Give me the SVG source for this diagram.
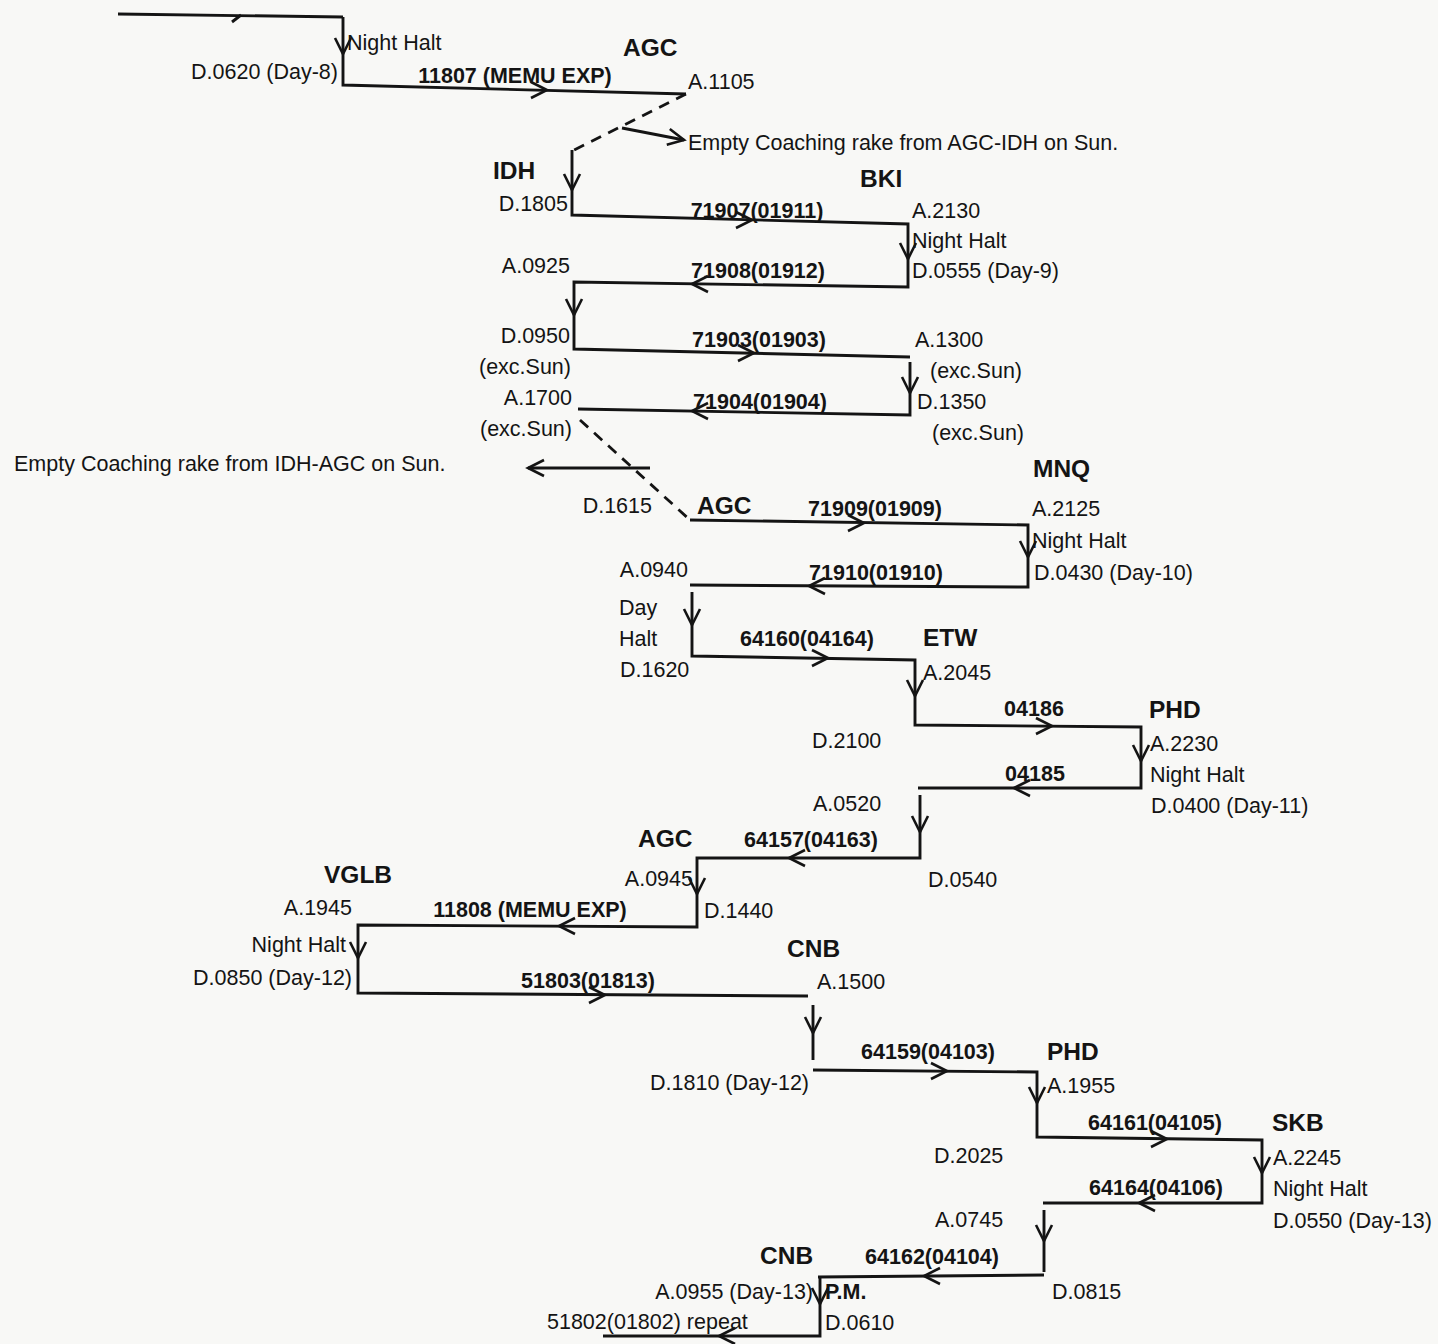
<svg xmlns="http://www.w3.org/2000/svg" width="1438" height="1344" viewBox="0 0 1438 1344">
<style>
text{font-family:"Liberation Sans",Arial,sans-serif;fill:#141414}
.t{font-size:21.5px}
.b{font-size:21.5px;font-weight:bold;text-anchor:middle}
.s{font-size:24.5px;font-weight:bold}
.e{text-anchor:end}
.ln{fill:none;stroke:#141414;stroke-width:2.9;stroke-linejoin:miter}
.d{fill:none;stroke:#141414;stroke-width:2.8;stroke-dasharray:11,8}
</style>
<defs>
<path id="ah" d="M-16,-8 L0,0 L-16,8" fill="none" stroke="#141414" stroke-width="2.6"/>
</defs>
<rect width="1438" height="1344" fill="#f8f8f6"/>
<g id="connectors">
<path class="ln" d="M118,14 L343,17"/>
<path class="ln" d="M232,22 L241,15"/>
<path class="ln" d="M343,17 L343,85 L686,94"/>
<path class="d" d="M686,94 L570,152"/>
<path class="ln" d="M622,128 L684,140"/>
<path class="ln" d="M572,150 L572,215 L908,224 L908,287 L574,282 L574,349 L910,357"/>
<path class="ln" d="M910,362 L910,415 L578,409"/>
<path class="d" d="M580,420 L690,520"/>
<path class="ln" d="M650,468 L528,468"/>
<path class="ln" d="M690,520 L1028,525 L1028,587 L690,585"/>
<path class="ln" d="M692,592 L692,656 L915,660 L915,725 L1141,727 L1141,788 L918,788"/>
<path class="ln" d="M920,795 L920,858 L697,858 L697,927 L358,925 L358,993 L808,996"/>
<path class="ln" d="M813,1005 L813,1060"/>
<path class="ln" d="M813,1070 L1037,1072 L1037,1137 L1262,1140 L1262,1203 L1043,1203"/>
<path class="ln" d="M1044,1210 L1044,1272"/>
<path class="ln" d="M1044,1275 L818,1277"/>
<path class="ln" d="M820,1277 L820,1336 L603,1336"/>
<use href="#ah" transform="translate(343,54) rotate(90)"/>
<use href="#ah" transform="translate(547,90)"/>
<use href="#ah" transform="translate(684,140) rotate(11)"/>
<use href="#ah" transform="translate(572,190) rotate(90)"/>
<use href="#ah" transform="translate(752,220)"/>
<use href="#ah" transform="translate(908,259) rotate(90)"/>
<use href="#ah" transform="translate(692,284) rotate(180)"/>
<use href="#ah" transform="translate(574,315) rotate(90)"/>
<use href="#ah" transform="translate(754,353)"/>
<use href="#ah" transform="translate(910,393) rotate(90)"/>
<use href="#ah" transform="translate(692,411) rotate(180)"/>
<use href="#ah" transform="translate(528,468) rotate(180)"/>
<use href="#ah" transform="translate(864,523)"/>
<use href="#ah" transform="translate(1028,557) rotate(90)"/>
<use href="#ah" transform="translate(809,586) rotate(180)"/>
<use href="#ah" transform="translate(692,625) rotate(90)"/>
<use href="#ah" transform="translate(828,658)"/>
<use href="#ah" transform="translate(915,696) rotate(90)"/>
<use href="#ah" transform="translate(1052,726)"/>
<use href="#ah" transform="translate(1141,761) rotate(90)"/>
<use href="#ah" transform="translate(1014,788) rotate(180)"/>
<use href="#ah" transform="translate(920,832) rotate(90)"/>
<use href="#ah" transform="translate(789,858) rotate(180)"/>
<use href="#ah" transform="translate(697,894) rotate(90)"/>
<use href="#ah" transform="translate(559,926) rotate(180)"/>
<use href="#ah" transform="translate(358,958) rotate(90)"/>
<use href="#ah" transform="translate(605,995)"/>
<use href="#ah" transform="translate(813,1033) rotate(90)"/>
<use href="#ah" transform="translate(947,1071)"/>
<use href="#ah" transform="translate(1037,1103) rotate(90)"/>
<use href="#ah" transform="translate(1167,1139)"/>
<use href="#ah" transform="translate(1262,1173) rotate(90)"/>
<use href="#ah" transform="translate(1139,1203) rotate(180)"/>
<use href="#ah" transform="translate(1044,1241) rotate(90)"/>
<use href="#ah" transform="translate(924,1276) rotate(180)"/>
<use href="#ah" transform="translate(820,1304) rotate(90)"/>
<use href="#ah" transform="translate(719,1336) rotate(180)"/>
</g>
<g id="start-day8">
<text class="t" x="347" y="50">Night Halt</text>
<text class="t e" x="338" y="79">D.0620 (Day-8)</text>
</g>
<g id="agc-1">
<text class="s" x="623" y="56">AGC</text>
<text class="t" x="688" y="89">A.1105</text>
</g>
<g id="note-agc-idh"><text class="t" x="688" y="150">Empty Coaching rake from AGC-IDH on Sun.</text></g>
<g id="idh-1">
<text class="s" x="493" y="179">IDH</text>
<text class="t e" x="568" y="211">D.1805</text>
</g>
<g id="bki-1">
<text class="s" x="860" y="187">BKI</text>
<text class="t" x="912" y="218">A.2130</text>
<text class="t" x="912" y="248">Night Halt</text>
<text class="t" x="912" y="278">D.0555 (Day-9)</text>
</g>
<g id="idh-2">
<text class="t e" x="570" y="273">A.0925</text>
<text class="t e" x="570" y="343">D.0950</text>
<text class="t e" x="571" y="374">(exc.Sun)</text>
</g>
<g id="bki-2">
<text class="t" x="915" y="347">A.1300</text>
<text class="t" x="930" y="378">(exc.Sun)</text>
<text class="t" x="917" y="409">D.1350</text>
<text class="t" x="932" y="440">(exc.Sun)</text>
</g>
<g id="idh-3">
<text class="t e" x="572" y="405">A.1700</text>
<text class="t e" x="572" y="436">(exc.Sun)</text>
</g>
<g id="note-idh-agc"><text class="t" x="14" y="471">Empty Coaching rake from IDH-AGC on Sun.</text></g>
<g id="agc-2">
<text class="t e" x="652" y="513">D.1615</text>
<text class="s" x="697" y="514">AGC</text>
</g>
<g id="mnq">
<text class="s" x="1033" y="477">MNQ</text>
<text class="t" x="1032" y="516">A.2125</text>
<text class="t" x="1032" y="548">Night Halt</text>
<text class="t" x="1034" y="580">D.0430 (Day-10)</text>
</g>
<g id="agc-3">
<text class="t e" x="688" y="577">A.0940</text>
<text class="t" x="619" y="615">Day</text>
<text class="t" x="619" y="646">Halt</text>
<text class="t" x="620" y="677">D.1620</text>
</g>
<g id="etw">
<text class="s" x="923" y="646">ETW</text>
<text class="t" x="923" y="680">A.2045</text>
<text class="t" x="812" y="748">D.2100</text>
</g>
<g id="phd-1">
<text class="s" x="1149" y="718">PHD</text>
<text class="t" x="1150" y="751">A.2230</text>
<text class="t" x="1150" y="782">Night Halt</text>
<text class="t" x="1151" y="813">D.0400 (Day-11)</text>
</g>
<g id="etw-2">
<text class="t" x="813" y="811">A.0520</text>
<text class="t" x="928" y="887">D.0540</text>
</g>
<g id="agc-4">
<text class="s" x="638" y="847">AGC</text>
<text class="t e" x="693" y="886">A.0945</text>
<text class="t" x="704" y="918">D.1440</text>
</g>
<g id="vglb">
<text class="s" x="324" y="883">VGLB</text>
<text class="t e" x="352" y="915">A.1945</text>
<text class="t e" x="346" y="952">Night Halt</text>
<text class="t e" x="352" y="985">D.0850 (Day-12)</text>
</g>
<g id="cnb-1">
<text class="s" x="787" y="957">CNB</text>
<text class="t" x="817" y="989">A.1500</text>
<text class="t e" x="809" y="1090">D.1810 (Day-12)</text>
</g>
<g id="phd-2">
<text class="s" x="1047" y="1060">PHD</text>
<text class="t" x="1047" y="1093">A.1955</text>
<text class="t" x="934" y="1163">D.2025</text>
</g>
<g id="skb">
<text class="s" x="1272" y="1131">SKB</text>
<text class="t" x="1273" y="1165">A.2245</text>
<text class="t" x="1273" y="1196">Night Halt</text>
<text class="t" x="1273" y="1228">D.0550 (Day-13)</text>
</g>
<g id="phd-3">
<text class="t" x="935" y="1227">A.0745</text>
<text class="t" x="1052" y="1299">D.0815</text>
</g>
<g id="cnb-2">
<text class="s" x="760" y="1264">CNB</text>
<text class="t e" x="813" y="1299">A.0955 (Day-13)</text>
<text class="b" x="825" y="1299" style="text-anchor:start">P.M.</text>
<text class="t" x="825" y="1330">D.0610</text>
<text class="t" x="547" y="1329">51802(01802) repeat</text>
</g>
<g id="train-labels">
<text class="b" x="515" y="83">11807 (MEMU EXP)</text>
<text class="b" x="757" y="218">71907(01911)</text>
<text class="b" x="758" y="278">71908(01912)</text>
<text class="b" x="759" y="347">71903(01903)</text>
<text class="b" x="760" y="409">71904(01904)</text>
<text class="b" x="875" y="516">71909(01909)</text>
<text class="b" x="876" y="580">71910(01910)</text>
<text class="b" x="807" y="646">64160(04164)</text>
<text class="b" x="1034" y="716">04186</text>
<text class="b" x="1035" y="781">04185</text>
<text class="b" x="811" y="847">64157(04163)</text>
<text class="b" x="530" y="917">11808 (MEMU EXP)</text>
<text class="b" x="588" y="988">51803(01813)</text>
<text class="b" x="928" y="1059">64159(04103)</text>
<text class="b" x="1155" y="1130">64161(04105)</text>
<text class="b" x="1156" y="1195">64164(04106)</text>
<text class="b" x="932" y="1264">64162(04104)</text>
</g>
</svg>
